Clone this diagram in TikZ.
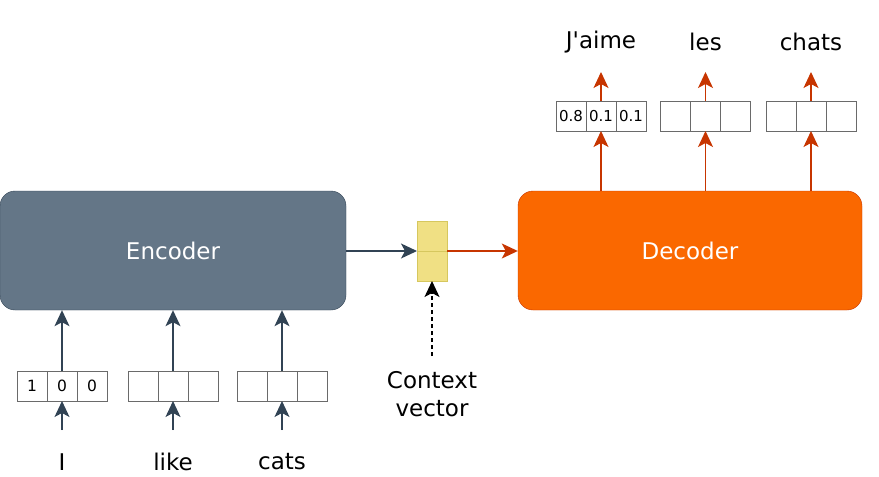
\documentclass[tikz,border=0pt]{standalone}
\usepackage{fontspec}
\setmainfont{DejaVu Sans}
\usetikzlibrary{positioning, arrows.meta, calc}
\definecolor{encfill}{HTML}{647687}
\definecolor{encline}{HTML}{314354}
\definecolor{decfill}{HTML}{FA6800}
\definecolor{decline}{HTML}{C73500}
\definecolor{ctxfill}{HTML}{F0E084}
\definecolor{ctxline}{HTML}{D6C75E}
\definecolor{cellline}{HTML}{6A6A6A}

\begin{document}
\begin{tikzpicture}[x=1pt, y=-1pt]
		\tikzset{
			arrowtip/.style={-{Stealth[length=16pt, width=15pt, inset=4pt]}},
			block/.style={draw, rounded corners=15pt, minimum width=346pt, minimum height=119pt, text=white, font=\fontsize{23}{27}\selectfont},
			cell/.style={draw=cellline, minimum size=30pt, inner sep=0pt, outer sep=0pt, font=\fontsize{15.5}{18}\selectfont},
			ctxcell/.style={draw=ctxline, fill=ctxfill, minimum size=30pt, inner sep=0pt, outer sep=0pt},
			word/.style={font=\fontsize{23}{28}\selectfont, inner sep=0pt},
			encarrow/.style={arrowtip, draw=encline, fill=encline, line width=1.2pt},
			decarrow/.style={arrowtip, draw=decline, fill=decline, line width=1.2pt}
		}
		\useasboundingbox (0,0) rectangle (879,477);
		
		% Encoder and decoder
		\node[block, fill=encfill, draw=encline] (enc) at (173,250.5) {Encoder};
		\node[block, fill=decfill, draw=decline, minimum width=344pt] (dec) at (690,250.5) {Decoder};
		
		% Context vector
		\node[ctxcell] (ctx1) at (432,236) {};
		\node[ctxcell, below=0pt of ctx1] (ctx2) {};
		\node[word, align=center] (ctxlabel) at (432,394) {Context\\vector};
		\coordinate (ctxtail) at (432,356);
		
		\draw[encarrow] (enc.east |- ctx1.south) -- (ctx1.south west);
		\draw[decarrow] (ctx1.south east) -- (dec.west |- ctx1.south);
		\draw[arrowtip, dash pattern=on 4pt off 3pt, line width=1.2pt] (ctxtail) -- (ctx2.south);
		
		% Input words and one-hot vectors
		\foreach \w/\cx/\n in {I/62/a, like/173/b, cats/282/c}{
			\node[cell] (in\n2) at (\cx,386) {};
			\node[cell, left=0pt of in\n2] (in\n1) {};
			\node[cell, right=0pt of in\n2] (in\n3) {};
			\node[word] (w\n) at (\cx,462) {\w};
			\coordinate (t\n) at (\cx,430);
			\draw[encarrow] (t\n) -- (in\n2.south);
			\draw[encarrow] (in\n2.north) -- (enc.south -| in\n2);
		}
		\node[font=\fontsize{15.5}{18}\selectfont] at (ina1) {1};
		\node[font=\fontsize{15.5}{18}\selectfont] at (ina2) {0};
		\node[font=\fontsize{15.5}{18}\selectfont] at (ina3) {0};
		
		% Output words and probabilities
		\foreach \w/\cx/\n in {J\textquotesingle aime/601/a, les/705.5/b, chats/811/c}{
			\node[cell] (out\n2) at (\cx,116) {};
			\node[cell, left=0pt of out\n2] (out\n1) {};
			\node[cell, right=0pt of out\n2] (out\n3) {};
			\node[word] (v\n) at (\cx,42) {\w};
			\coordinate (h\n) at (\cx,72);
			\draw[decarrow] (dec.north -| out\n2) -- (out\n2.south);
			\draw[decarrow] (out\n2.north) -- (h\n);
		}
		\node[font=\fontsize{15}{18}\selectfont] at (outa1) {0.8};
		\node[font=\fontsize{15}{18}\selectfont] at (outa2) {0.1};
		\node[font=\fontsize{15}{18}\selectfont] at (outa3) {0.1};
		
	\end{tikzpicture}
\end{document}
